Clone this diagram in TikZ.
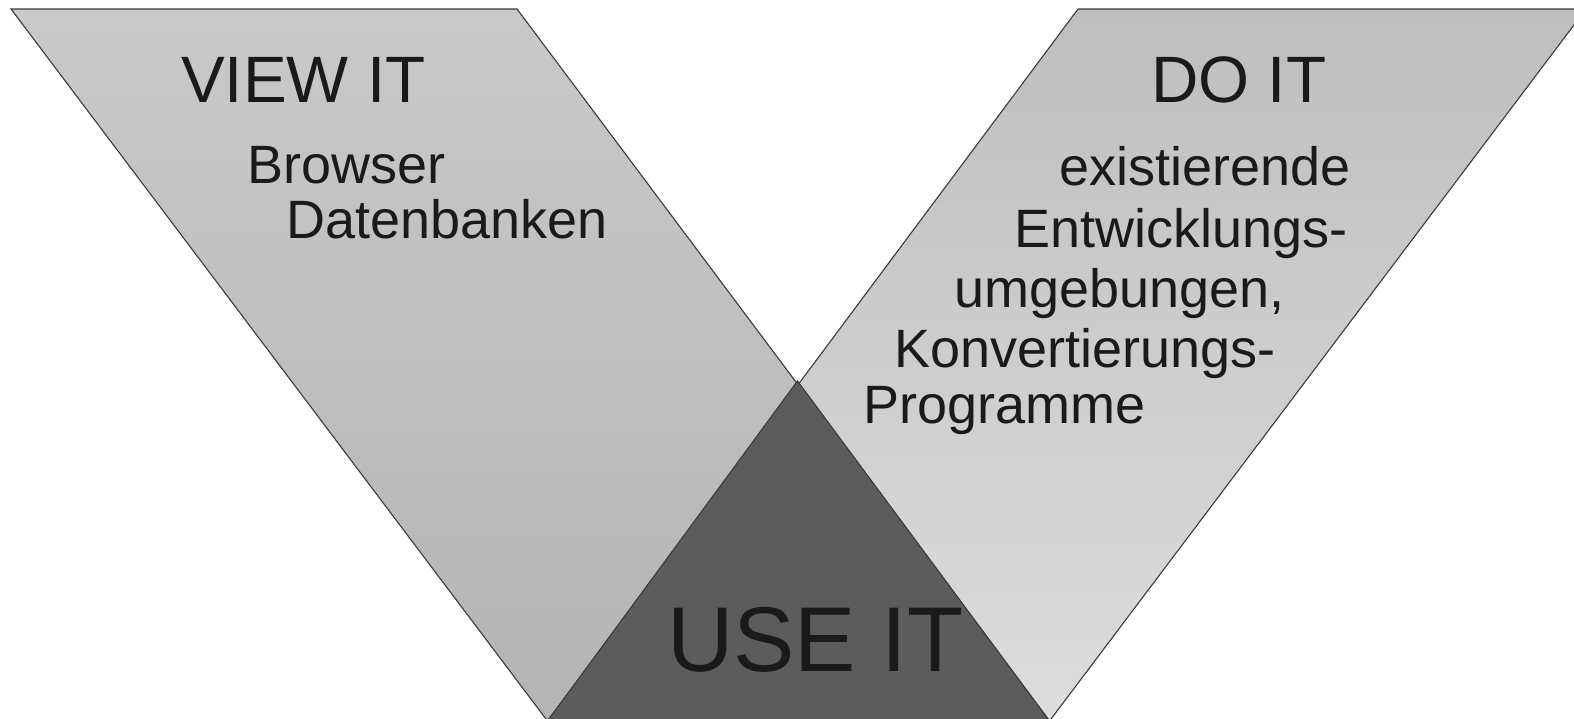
\documentclass[tikz,border=0pt]{standalone}
\usepackage{fontspec}
\setmainfont{Liberation Sans}
\definecolor{edge}{HTML}{3A3A3A}
\definecolor{lefttop}{HTML}{C9C9C9}
\definecolor{leftbot}{HTML}{B4B4B4}
\definecolor{righttop}{HTML}{BEBEBE}
\definecolor{rightbot}{HTML}{DDDDDD}
\definecolor{dark}{HTML}{5C5C5C}
\definecolor{txt}{HTML}{1A1A1A}
\tikzset{
  outline/.style={draw=edge, line width=1.1pt, line join=miter},
  bigtxt/.style={anchor=base west, inner sep=0pt, text=txt, font=\fontsize{65.6}{70}\selectfont},
  hugetxt/.style={anchor=base west, inner sep=0pt, text=txt, font=\fontsize{92}{96}\selectfont},
  smalltxt/.style={anchor=base west, inner sep=0pt, text=txt, font=\fontsize{54}{58}\selectfont}
}
\begin{document}
\begin{tikzpicture}[x=1pt,y=-1pt]
\useasboundingbox (0,0) rectangle (1574,718);
\clip (0,0) rectangle (1574,718);
% corner coordinates
\coordinate (LTL) at (11,9);
\coordinate (LTR) at (517,9);
\coordinate (LBR) at (1049.5,721);
\coordinate (LBL) at (547.5,721);
\coordinate (RTL) at (1078,9);
\coordinate (RTR) at (1586,9);
\coordinate (X) at (797.5,381);
% left band
\shade[top color=lefttop, bottom color=leftbot] (LTL) -- (LTR) -- (LBR) -- (LBL) -- cycle;
% right band
\shade[top color=righttop, bottom color=rightbot] (RTL) -- (RTR) -- (LBR) -- (LBL) -- cycle;
% outlines
\draw[outline] (LTL) -- (LTR) -- (LBR) -- (LBL) -- cycle;
\draw[outline] (RTL) -- (RTR) -- (LBR) -- (LBL) -- cycle;
% overlap triangle
\fill[dark] (X) -- (LBR) -- (LBL) -- cycle;
\draw[outline] (X) -- (LBR) -- (LBL) -- cycle;
% texts
\node[bigtxt] (view) at (181,102) {VIEW IT};
\node[smalltxt] (browser) at (247,183) {Browser};
\node[smalltxt] (daten) at (286,238) {Datenbanken};
\node[bigtxt] (do) at (1151,102) {DO IT};
\node[smalltxt] (exist) at (1059,185) {existierende};
\node[smalltxt] (entw) at (1014,247) {Entwicklungs-};
\node[smalltxt] (umg) at (954,307) {umgebungen,};
\node[smalltxt] (konv) at (894,367) {Konvertierungs-};
\node[smalltxt] (prog) at (863,423) {Programme};
\node[hugetxt] (use) at (667,671) {USE IT};
\end{tikzpicture}
\end{document}
